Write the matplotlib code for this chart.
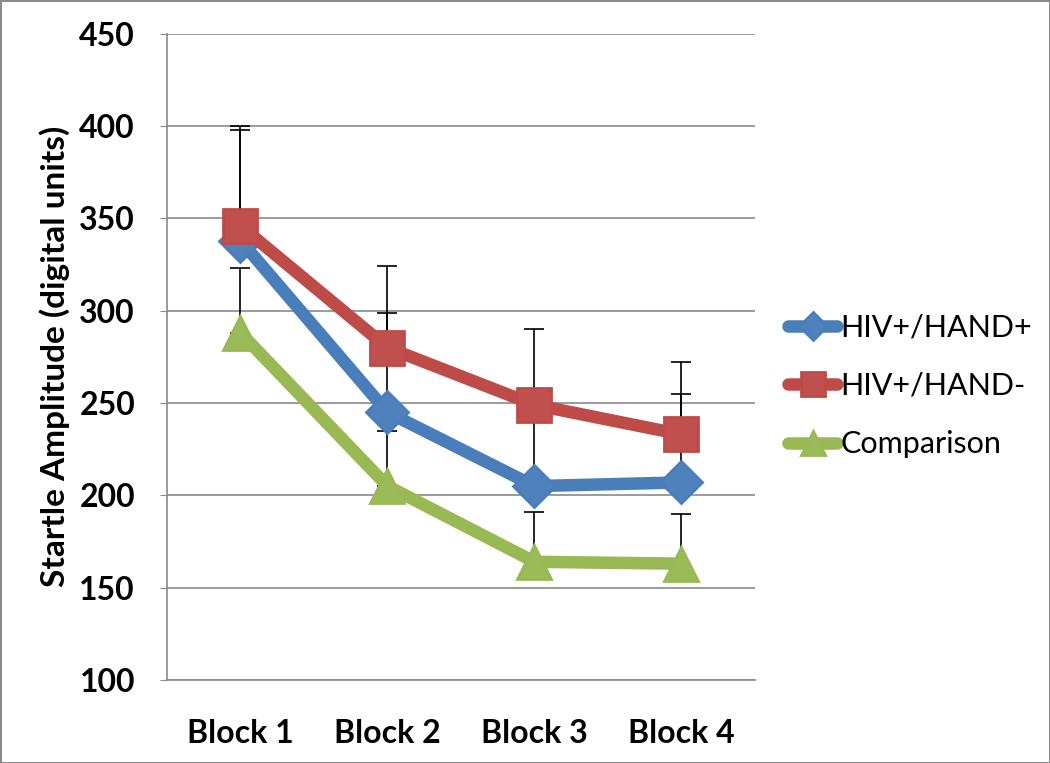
import matplotlib
matplotlib.use("Agg")
import matplotlib.pyplot as plt

categories = ["Block 1", "Block 2", "Block 3", "Block 4"]
series_names = ["HIV+/HAND+", "HIV+/HAND-", "Comparison"]
hand_pos = [338, 245, 205, 207]
hand_neg = [346, 280, 249, 233]
comparison = [288, 205, 164, 163]
hand_pos_err = [60, 54, 45, 48]
hand_neg_err = [54, 44, 41, 39]
comparison_err = [35, 30, 27, 27]
yticks = [100, 150, 200, 250, 300, 350, 400, 450]

colors = ["#4A7EBB", "#BE4B48", "#98B954"]
faces = ["#4F81BD", "#C0504D", "#9BBB59"]
markers = ["D", "s", "^"]
msizes = [21, 24, 25]

plt.rcParams['font.family'] = ['Lato', 'DejaVu Sans']

fig = plt.figure(figsize=(10.5, 7.63), dpi=100, linewidth=2, edgecolor="#8c8c8c")
ax = fig.add_axes([0.159, 0.1088, 0.56, 0.847])

x = list(range(len(categories)))
data = [hand_pos, hand_neg, comparison]
errs = [hand_pos_err, hand_neg_err, comparison_err]

for vals, err in zip(data, errs):
    ax.errorbar(x, vals, yerr=[[0]*len(vals), err], fmt='none', ecolor='black',
                elinewidth=1.2, capsize=7, capthick=1.2, zorder=2)

handles = []
for i, (vals, name) in enumerate(zip(data, series_names)):
    ln, = ax.plot(x, vals, color=colors[i], linewidth=9, marker=markers[i],
                  markersize=msizes[i], markerfacecolor=faces[i],
                  markeredgecolor=colors[i], markeredgewidth=2,
                  solid_joinstyle='round', solid_capstyle='round',
                  label=name, zorder=3 + i)
    handles.append(ln)

ax.set_ylim(100, 450)
ax.set_xlim(-0.5, 3.5)
ax.set_yticks(yticks)
ax.set_xticks(x)
ax.set_xticklabels(categories, fontsize=23, fontweight='bold')
ax.set_yticklabels([str(t) for t in yticks], fontsize=23, fontweight='bold')
ax.set_ylabel("Startle Amplitude (digital units)", fontsize=24, fontweight='bold', labelpad=7)

ax.grid(axis='y', color='#8a8a8a', linewidth=1.2)
ax.set_axisbelow(True)
ax.spines['right'].set_visible(False)
ax.spines['top'].set_visible(False)
for s in ['left', 'bottom']:
    ax.spines[s].set_color('#8a8a8a')
    ax.spines[s].set_linewidth(1.2)
ax.tick_params(axis='y', length=5, color='#8a8a8a', pad=18)
ax.tick_params(axis='x', length=0, pad=28)

leg = ax.legend(handles=handles, loc='center left', bbox_to_anchor=(1.01, 0.455),
                frameon=False, fontsize=22, handlelength=1.6, handletextpad=0.1,
                labelspacing=1.0, markerscale=0.7)

fig.savefig("out.png", dpi=100, edgecolor=fig.get_edgecolor())
